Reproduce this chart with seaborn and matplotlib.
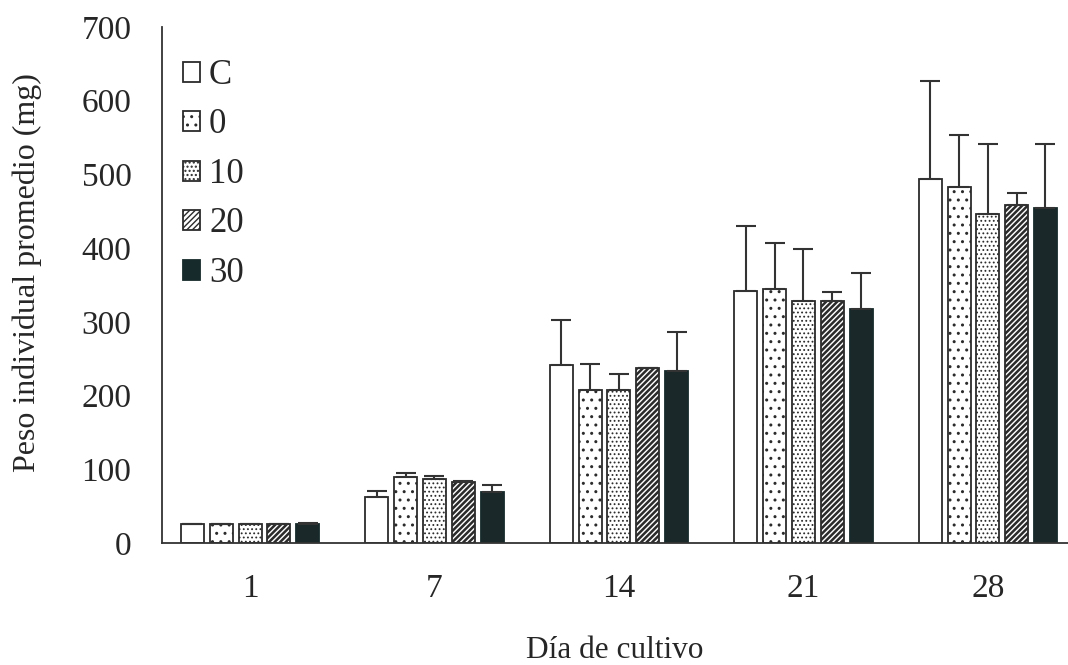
import numpy as np
import pandas as pd
import seaborn as sns
import matplotlib
import matplotlib.pyplot as plt
from matplotlib.patches import Patch

matplotlib.use('Agg')
sns.set_style("white")
plt.rcParams['font.family'] = ['Liberation Serif', 'DejaVu Serif']
plt.rcParams['hatch.linewidth'] = 1.0

days = ["1", "7", "14", "21", "28"]
treatments = ["C", "0", "10", "20", "30"]

mean_c = [26, 62, 241, 342, 494]
mean_0 = [26, 89, 208, 344, 483]
mean_10 = [26, 87, 208, 328, 446]
mean_20 = [26, 83, 237, 328, 459]
mean_30 = [26, 69, 233, 317, 455]

err_c = [0, 8, 61, 88, 133]
err_0 = [0, 6, 35, 63, 70]
err_10 = [0, 4, 21, 71, 95]
err_20 = [0, 1, 0, 12, 16]
err_30 = [1, 10, 53, 49, 86]

means = [mean_c, mean_0, mean_10, mean_20, mean_30]
errs = [err_c, err_0, err_10, err_20, err_30]

rows = []
for t, m in zip(treatments, means):
    for d, v in zip(days, m):
        rows.append({"dia": d, "trat": t, "peso": v})
df = pd.DataFrame(rows)

dark = "#172a2b"
edge = "#2b2b2b"
fills = {"C": "white", "0": "white", "10": "white", "20": "white", "30": dark}
hatches = {"C": "", "0": "..", "10": "....", "20": "//////", "30": ""}
hatch_lw = {"C": 1.0, "0": 1.0, "10": 0.8, "20": 1.8, "30": 1.0}


def style_patch(p, t):
    p.set_hatch(hatches[t])
    p.set_edgecolor(dark if t == "30" else edge)
    # per-artist hatch width only exists in newer matplotlib
    if hasattr(p, "set_hatch_linewidth"):
        p.set_hatch_linewidth(hatch_lw[t])


fig = plt.figure(figsize=(10.68, 6.65), dpi=100)
ax = fig.add_axes([0.1517, 0.1835, 0.8483, 0.7759])

sns.barplot(data=df, x="dia", y="peso", hue="trat", order=days,
            hue_order=treatments, palette=fills, width=0.78, gap=0.2,
            edgecolor=edge, linewidth=1.3, ax=ax, legend=False)

for cont, t, e in zip(ax.containers, treatments, errs):
    xs = []
    ys = []
    for bar in cont:
        style_patch(bar, t)
        xs.append(bar.get_x() + bar.get_width() / 2)
        ys.append(bar.get_height())
    ax.errorbar(xs, ys, yerr=[np.zeros(len(e)), e], fmt="none",
                ecolor="#333333", elinewidth=1.5, capsize=7, capthick=1.5,
                zorder=1)

handles = []
for t in treatments:
    h = Patch(facecolor=fills[t], linewidth=1.3, label=t)
    style_patch(h, t)
    handles.append(h)
ax.legend(handles=handles, loc="upper left", bbox_to_anchor=(0.0232, 0.938),
          frameon=False, fontsize=25, handlelength=0.5, handleheight=0.5,
          handletextpad=0.25, labelspacing=0.475, borderaxespad=0,
          borderpad=0)

ax.set_xlim(-0.477, 4.434)
ax.set_ylim(0, 700)
ax.set_yticks(range(0, 701, 100))
ax.tick_params(axis="both", length=0, labelsize=24)
ax.tick_params(axis="x", pad=22)
ax.tick_params(axis="y", pad=22)
ax.set_xlabel("Día de cultivo", fontsize=22.5)
ax.xaxis.set_label_coords(0.5, -0.18)
ax.set_ylabel("Peso individual promedio (mg)", fontsize=23)
ax.yaxis.set_label_coords(-0.1326, 0.525)

sns.despine(ax=ax, top=True, right=True)
for s in ["left", "bottom"]:
    ax.spines[s].set_color("#333333")
    ax.spines[s].set_linewidth(1.3)

fig.savefig("out.png", dpi=100)
